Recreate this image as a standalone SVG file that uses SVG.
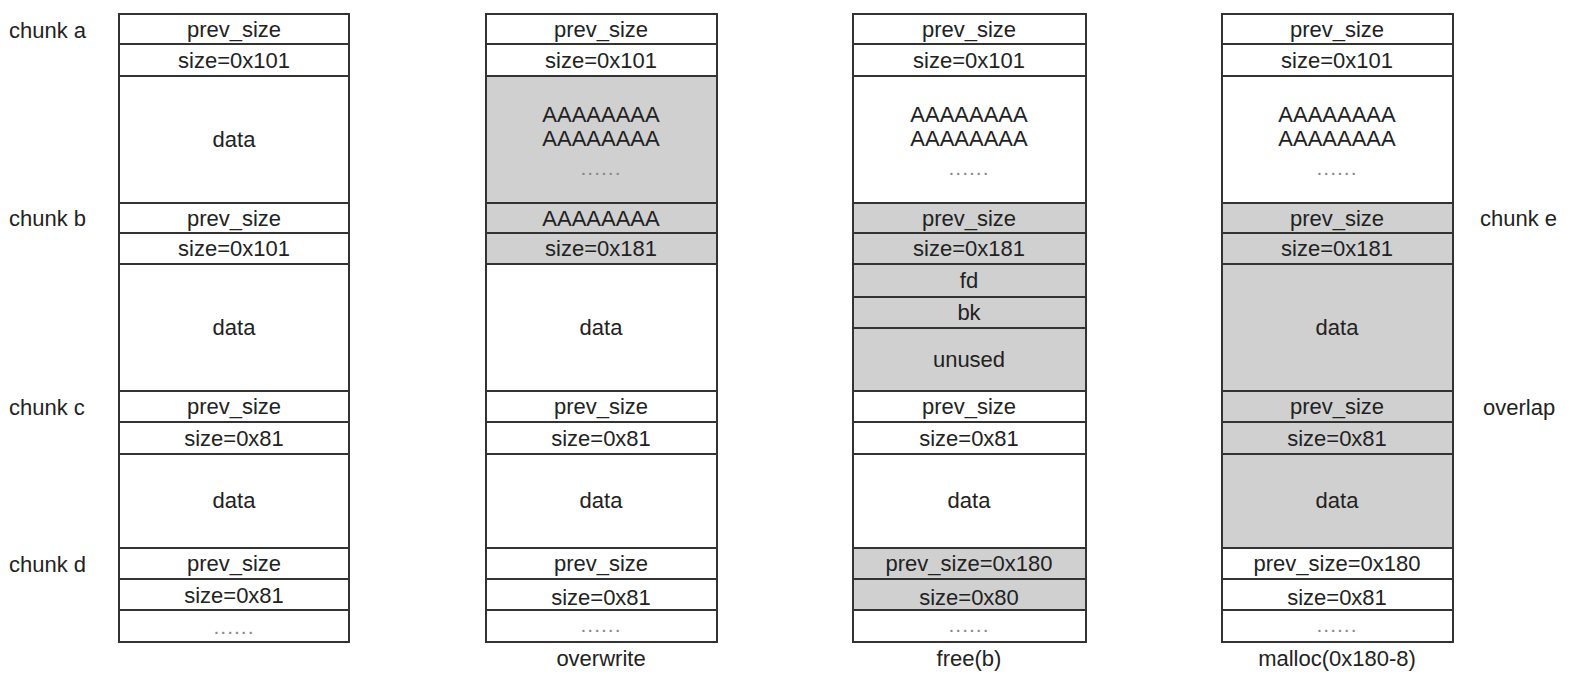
<svg xmlns="http://www.w3.org/2000/svg" width="1569" height="676" viewBox="0 0 1569 676">
<style>
  .w{fill:#ffffff;stroke:#333;stroke-width:2}
  .g{fill:#d0d0d0;stroke:#333;stroke-width:2}
  text{font-family:"Liberation Sans",Arial,sans-serif;font-size:22px;fill:#222}
  .c{text-anchor:middle}
  .d{fill:#888;font-size:21px;letter-spacing:1px}
</style>
<rect width="1569" height="676" fill="#fff"/>
<g id="labels">
  <text x="9" y="38">chunk a</text>
  <text x="9" y="226">chunk b</text>
  <text x="9" y="415">chunk c</text>
  <text x="9" y="572">chunk d</text>
  <text x="1480" y="226">chunk e</text>
  <text x="1483" y="415">overlap</text>
  <text class="c" x="601" y="666">overwrite</text>
  <text class="c" x="969" y="666">free(b)</text>
  <text class="c" x="1337" y="666">malloc(0x180-8)</text>
</g>
<g id="col1">
  <rect class="w" x="119" y="14" width="230" height="30"/><text class="c" x="234" y="37">prev_size</text>
  <rect class="w" x="119" y="44" width="230" height="32"/><text class="c" x="234" y="68">size=0x101</text>
  <rect class="w" x="119" y="76" width="230" height="127"/><text class="c" x="234" y="147">data</text>
  <rect class="w" x="119" y="203" width="230" height="30"/><text class="c" x="234" y="226">prev_size</text>
  <rect class="w" x="119" y="233" width="230" height="31"/><text class="c" x="234" y="256">size=0x101</text>
  <rect class="w" x="119" y="264" width="230" height="127"/><text class="c" x="234" y="335">data</text>
  <rect class="w" x="119" y="391" width="230" height="31"/><text class="c" x="234" y="414">prev_size</text>
  <rect class="w" x="119" y="422" width="230" height="32"/><text class="c" x="234" y="446">size=0x81</text>
  <rect class="w" x="119" y="454" width="230" height="94"/><text class="c" x="234" y="508">data</text>
  <rect class="w" x="119" y="548" width="230" height="31"/><text class="c" x="234" y="571">prev_size</text>
  <rect class="w" x="119" y="579" width="230" height="31"/><text class="c" x="234" y="603">size=0x81</text>
  <rect class="w" x="119" y="610" width="230" height="32"/><text class="c d" x="234" y="634">......</text>
</g>
<g id="col2">
  <rect class="w" x="486" y="14" width="231" height="30"/><text class="c" x="601" y="37">prev_size</text>
  <rect class="w" x="486" y="44" width="231" height="32"/><text class="c" x="601" y="68">size=0x101</text>
  <rect class="g" x="486" y="76" width="231" height="127"/>
  <text class="c" x="601" y="122">AAAAAAAA</text><text class="c" x="601" y="146">AAAAAAAA</text><text class="c d" x="601" y="175">......</text>
  <rect class="g" x="486" y="203" width="231" height="30"/><text class="c" x="601" y="226">AAAAAAAA</text>
  <rect class="g" x="486" y="233" width="231" height="31"/><text class="c" x="601" y="256">size=0x181</text>
  <rect class="w" x="486" y="264" width="231" height="127"/><text class="c" x="601" y="335">data</text>
  <rect class="w" x="486" y="391" width="231" height="31"/><text class="c" x="601" y="414">prev_size</text>
  <rect class="w" x="486" y="422" width="231" height="32"/><text class="c" x="601" y="446">size=0x81</text>
  <rect class="w" x="486" y="454" width="231" height="94"/><text class="c" x="601" y="508">data</text>
  <rect class="w" x="486" y="548" width="231" height="31"/><text class="c" x="601" y="571">prev_size</text>
  <rect class="w" x="486" y="579" width="231" height="31"/><text class="c" x="601" y="605">size=0x81</text>
  <rect class="w" x="486" y="610" width="231" height="32"/><text class="c d" x="601" y="632">......</text>
</g>
<g id="col3">
  <rect class="w" x="853" y="14" width="233" height="30"/><text class="c" x="969" y="37">prev_size</text>
  <rect class="w" x="853" y="44" width="233" height="32"/><text class="c" x="969" y="68">size=0x101</text>
  <rect class="w" x="853" y="76" width="233" height="127"/>
  <text class="c" x="969" y="122">AAAAAAAA</text><text class="c" x="969" y="146">AAAAAAAA</text><text class="c d" x="969" y="175">......</text>
  <rect class="g" x="853" y="203" width="233" height="30"/><text class="c" x="969" y="226">prev_size</text>
  <rect class="g" x="853" y="233" width="233" height="31"/><text class="c" x="969" y="256">size=0x181</text>
  <rect class="g" x="853" y="264" width="233" height="33"/><text class="c" x="969" y="288">fd</text>
  <rect class="g" x="853" y="297" width="233" height="31"/><text class="c" x="969" y="320">bk</text>
  <rect class="g" x="853" y="328" width="233" height="63"/><text class="c" x="969" y="367">unused</text>
  <rect class="w" x="853" y="391" width="233" height="31"/><text class="c" x="969" y="414">prev_size</text>
  <rect class="w" x="853" y="422" width="233" height="32"/><text class="c" x="969" y="446">size=0x81</text>
  <rect class="w" x="853" y="454" width="233" height="94"/><text class="c" x="969" y="508">data</text>
  <rect class="g" x="853" y="548" width="233" height="31"/><text class="c" x="969" y="571">prev_size=0x180</text>
  <rect class="g" x="853" y="579" width="233" height="31"/><text class="c" x="969" y="605">size=0x80</text>
  <rect class="w" x="853" y="610" width="233" height="32"/><text class="c d" x="969" y="632">......</text>
</g>
<g id="col4">
  <rect class="w" x="1222" y="14" width="231" height="30"/><text class="c" x="1337" y="37">prev_size</text>
  <rect class="w" x="1222" y="44" width="231" height="32"/><text class="c" x="1337" y="68">size=0x101</text>
  <rect class="w" x="1222" y="76" width="231" height="127"/>
  <text class="c" x="1337" y="122">AAAAAAAA</text><text class="c" x="1337" y="146">AAAAAAAA</text><text class="c d" x="1337" y="175">......</text>
  <rect class="g" x="1222" y="203" width="231" height="30"/><text class="c" x="1337" y="226">prev_size</text>
  <rect class="g" x="1222" y="233" width="231" height="31"/><text class="c" x="1337" y="256">size=0x181</text>
  <rect class="g" x="1222" y="264" width="231" height="127"/><text class="c" x="1337" y="335">data</text>
  <rect class="g" x="1222" y="391" width="231" height="31"/><text class="c" x="1337" y="414">prev_size</text>
  <rect class="g" x="1222" y="422" width="231" height="32"/><text class="c" x="1337" y="446">size=0x81</text>
  <rect class="g" x="1222" y="454" width="231" height="94"/><text class="c" x="1337" y="508">data</text>
  <rect class="w" x="1222" y="548" width="231" height="31"/><text class="c" x="1337" y="571">prev_size=0x180</text>
  <rect class="w" x="1222" y="579" width="231" height="31"/><text class="c" x="1337" y="605">size=0x81</text>
  <rect class="w" x="1222" y="610" width="231" height="32"/><text class="c d" x="1337" y="632">......</text>
</g>
</svg>
